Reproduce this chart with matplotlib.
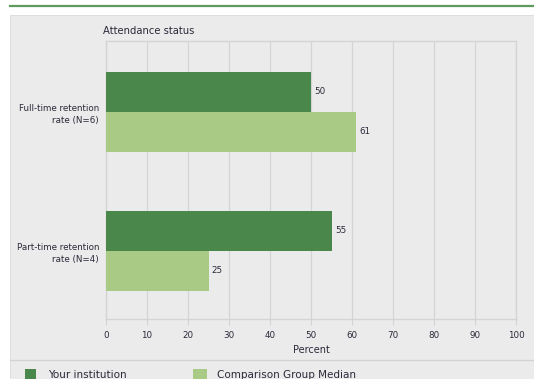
import matplotlib
matplotlib.use("Agg")
import matplotlib.pyplot as plt
import numpy as np
from matplotlib.patches import Rectangle
from matplotlib.lines import Line2D

plt.rcParams['font.family'] = ['DejaVu Sans']

# Data
categories = ["Full-time retention\nrate (N=6)", "Part-time retention\nrate (N=4)"]
your_institution = [50, 55]
comparison_median = [61, 25]
x_ticks = [0, 10, 20, 30, 40, 50, 60, 70, 80, 90, 100]
series_names = ["Your institution", "Comparison Group Median"]

DARK = "#4a874a"
LIGHT = "#a8ca84"
PANEL = "#ebebeb"
GRID = "#d4d4d4"
TXT = "#2a2a3a"

W, H = 534, 379
fig = plt.figure(figsize=(W / 100, H / 100), dpi=100)
fig.patch.set_facecolor("white")

def fx(px):
    return px / W

def fy(py):
    return 1 - py / H

# Panel background and header rule
fig.add_artist(Rectangle((fx(10), 0), fx(534) - fx(10), fy(15), transform=fig.transFigure,
                         facecolor=PANEL, edgecolor="#dcdcdc", lw=0.6, zorder=0))
fig.add_artist(Line2D([fx(10), 1], [fy(6), fy(6)], transform=fig.transFigure,
                      color="#5e995e", lw=1.6))
fig.add_artist(Line2D([fx(10), 1], [fy(360), fy(360)], transform=fig.transFigure,
                      color="#d2d2d2", lw=0.9))

# Plot area
left, right, top, bottom = 106, 516, 41, 319
ax = fig.add_axes([fx(left), fy(bottom), fx(right) - fx(left), (bottom - top) / H])
ax.set_facecolor(PANEL)

y = np.arange(len(categories))
h = 0.288
b1 = ax.barh(y - h / 2, your_institution, height=h, color=DARK, zorder=3)
b2 = ax.barh(y + h / 2, comparison_median, height=h, color=LIGHT, zorder=3)

for bars, vals in ((b1, your_institution), (b2, comparison_median)):
    for bar, v in zip(bars, vals):
        ax.text(v + 0.8, bar.get_y() + bar.get_height() / 2, f"{v}",
                va="center", ha="left", fontsize=6.3, color=TXT, zorder=4)

ax.set_xlim(0, 100)
ax.set_ylim(1.49, -0.51)
ax.set_xticks(x_ticks)
ax.set_xticklabels([str(t) for t in x_ticks], fontsize=6.3, color=TXT)
ax.set_yticks(y)
ax.set_yticklabels(categories, fontsize=6.3, color=TXT, linespacing=1.45)
ax.tick_params(axis="y", length=0, pad=5)
ax.tick_params(axis="x", length=4, width=0.8, color=GRID, pad=5)
for t in ax.get_yticklabels():
    t.set_horizontalalignment("right")

ax.xaxis.grid(True, color=GRID, lw=0.9, zorder=1)
ax.set_axisbelow(True)
for s in ax.spines.values():
    s.set_color(GRID)
    s.set_linewidth(1.0)

ax.set_xlabel("Percent", fontsize=7, color=TXT, labelpad=3)

fig.text(fx(103), fy(31), "Attendance status", fontsize=7.2, color=TXT, ha="left", va="center")

# Legend row
fig.add_artist(Rectangle((fx(25), fy(380)), fx(11), 11 / H, transform=fig.transFigure,
                         facecolor=DARK, edgecolor="none"))
fig.text(fx(48), fy(375), series_names[0], fontsize=7.5, color=TXT, ha="left", va="center")
fig.add_artist(Rectangle((fx(193), fy(380)), fx(14), 11 / H, transform=fig.transFigure,
                         facecolor=LIGHT, edgecolor="none"))
fig.text(fx(217), fy(375), series_names[1], fontsize=7.5, color=TXT, ha="left", va="center")

fig.savefig("out.png", dpi=100)
